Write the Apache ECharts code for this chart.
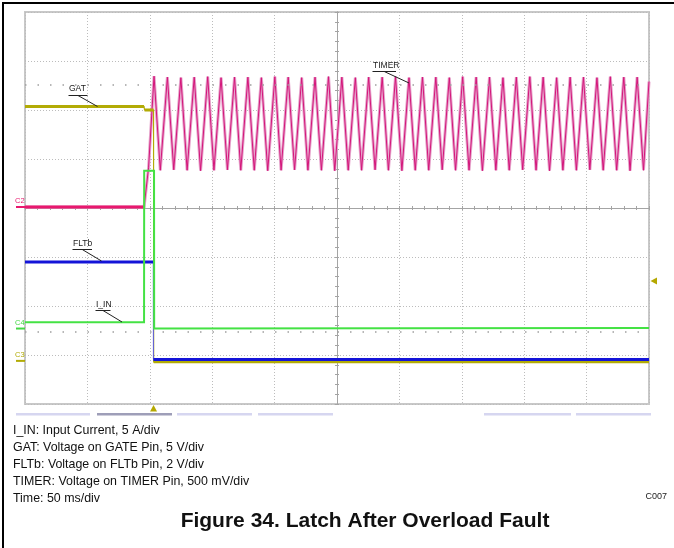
<!DOCTYPE html>
<html><head><meta charset="utf-8">
<script src="https://cdn.jsdelivr.net/npm/echarts@6/dist/echarts.min.js"></script>
<style>html,body{margin:0;padding:0;background:#fff}#c{width:674px;height:548px}</style>
</head><body><div id="c"></div>
<script>
// Time in ms from left screen edge (50 ms/div, 10 div); amplitude in screen divisions (0 = centre line)
const gatT = [0, 95.4, 95.8, 103.0, 103.1, 500];
const gatV = [2.07, 2.07, 2.0, 2.0, -3.14, -3.14];
const fltT = [0, 102.8, 102.9, 500];
const fltV = [-1.10, -1.10, -3.09, -3.09];
const iinT = [0, 95.4, 95.5, 103.4, 103.5, 500];
const iinV = [-2.33, -2.33, 0.76, 0.76, -2.46, -2.45];
const timerLeadT = [0, 95.4, 99.0];
const timerLeadV = [0.02, 0.02, 0.82];
const timerPeakT = [103.4, 114.1, 124.9, 135.6, 146.4, 157.1, 167.9, 178.6, 189.4, 200.2, 210.9, 221.7, 232.4, 243.2, 253.9, 264.7, 275.4, 286.2, 296.9, 307.7, 318.5, 329.2, 340.0, 350.7, 361.5, 372.2, 383.0, 393.7, 404.5, 415.2, 426.0, 436.8, 447.5, 458.3, 469.0, 479.8, 490.5];
const timerPeakV = [2.69, 2.67, 2.66, 2.67, 2.68, 2.66, 2.67, 2.67, 2.66, 2.68, 2.67, 2.66, 2.67, 2.68, 2.67, 2.66, 2.67, 2.67, 2.68, 2.66, 2.67, 2.67, 2.66, 2.68, 2.67, 2.67, 2.66, 2.67, 2.68, 2.67, 2.66, 2.67, 2.67, 2.66, 2.68, 2.67, 2.67];
const timerTroughT = [108.4, 119.2, 129.9, 140.7, 151.4, 162.2, 172.9, 183.7, 194.5, 205.2, 216.0, 226.7, 237.5, 248.2, 259.0, 269.7, 280.5, 291.2, 302.0, 312.7, 323.5, 334.3, 345.0, 355.8, 366.5, 377.3, 388.0, 398.8, 409.5, 420.3, 431.0, 441.8, 452.6, 463.3, 474.1, 484.8, 495.6];
const timerTroughV = [0.77, 0.78, 0.77, 0.76, 0.77, 0.78, 0.77, 0.77, 0.76, 0.77, 0.78, 0.77, 0.77, 0.76, 0.77, 0.77, 0.78, 0.77, 0.76, 0.77, 0.77, 0.78, 0.77, 0.77, 0.76, 0.77, 0.77, 0.78, 0.77, 0.76, 0.77, 0.77, 0.78, 0.77, 0.77, 0.76, 0.77];
const timerTailT = [500];
const timerTailV = [2.58];
const cursorLevels = [2.51, -2.53];
const triggerTime = 103.0;
const triggerLevel = -1.49;
const channelNames = ['C2', 'C4', 'C3'];
const channelZero = [0.02, -2.46, -3.12];
const legendLines = ['I_IN: Input Current, 5 A/div', 'GAT: Voltage on GATE Pin, 5 V/div', 'FLTb: Voltage on FLTb Pin, 2 V/div', 'TIMER: Voltage on TIMER Pin, 500 mV/div', 'Time: 50 ms/div'];
const figTitle = 'Figure 34. Latch After Overload Fault';
const figCode = 'C007';

const FONT = 'Liberation Sans, Arial, Helvetica, sans-serif';
const COL = {timer: '#e8186e', timerCore: '#d4157a', timerHalo: '#e6a3cb', gat: '#b2ab05', flt: '#1414d8', iin: '#44e244'};
const HALF = 250;
function pts(ts, vs) { return ts.map((t, i) => [t - HALF, vs[i]]); }
function flats(ts, vs) {
  const out = [];
  for (let i = 0; i < ts.length - 1; i++) {
    if (vs[i] === vs[i + 1]) { out.push([ts[i] - HALF, vs[i]], [ts[i + 1] - HALF, vs[i + 1]], [ts[i + 1] - HALF, '-']); }
  }
  return out;
}
const timerPairs = [];
timerLeadT.forEach((t, i) => timerPairs.push([t, timerLeadV[i]]));
timerPeakT.forEach((t, i) => timerPairs.push([t, timerPeakV[i]]));
timerTroughT.forEach((t, i) => timerPairs.push([t, timerTroughV[i]]));
timerTailT.forEach((t, i) => timerPairs.push([t, timerTailV[i]]));
timerPairs.sort((a, b) => a[0] - b[0]);
const timerT = timerPairs.map(p => p[0]), timerV = timerPairs.map(p => p[1]);

function line(name, data, color, width, z) {
  return {name, type: 'line', data, showSymbol: false, symbol: 'none', silent: true, animation: false, z,
    lineStyle: {color, width, cap: 'butt', join: 'miter'}, connectNulls: false};
}
const axisCommonX = {type: 'value', min: -250, max: 250, interval: 50,
  axisLabel: {show: false}, axisLine: {show: true, onZero: true, onZeroAxisIndex: 0, lineStyle: {color: '#a4a4a4', width: 1}},
  axisTick: {show: true, length: 2, lineStyle: {color: '#a4a4a4'}},
  minorTick: {show: true, splitNumber: 5, length: 2, lineStyle: {color: '#a4a4a4'}}};
const axisCommonY = {type: 'value', min: -4, max: 4, interval: 1,
  axisLabel: {show: false}, axisLine: {show: true, onZero: true, onZeroAxisIndex: 0, lineStyle: {color: '#a4a4a4', width: 1}},
  axisTick: {show: true, length: 2, lineStyle: {color: '#a4a4a4'}},
  minorTick: {show: true, splitNumber: 5, length: 2, lineStyle: {color: '#a4a4a4'}}};

const chart = echarts.init(document.getElementById('c'), null, {renderer: 'canvas'});
chart.setOption({
  backgroundColor: '#ffffff',
  animation: false,
  grid: {left: 25, top: 12, width: 624, height: 392, show: true, borderColor: '#c8c8c8', borderWidth: 2, backgroundColor: '#ffffff', containLabel: false},
  xAxis: [
    Object.assign({}, axisCommonX, {position: 'bottom', splitLine: {show: true, lineStyle: {color: '#bcbcbc', width: 1, type: [1, 2]}}}),
    Object.assign({}, axisCommonX, {position: 'top', splitLine: {show: false}})
  ],
  yAxis: [
    Object.assign({}, axisCommonY, {position: 'left', splitLine: {show: true, lineStyle: {color: '#bcbcbc', width: 1, type: [1, 2]}}}),
    Object.assign({}, axisCommonY, {position: 'right', splitLine: {show: false}})
  ],
  series: [
    Object.assign(line('cursor', [], '#999', 1, 1), {markLine: {silent: true, symbol: 'none', animation: false,
      label: {show: false}, lineStyle: {color: '#a0a0a0', width: 1.5, type: [1.5, 11]},
      data: cursorLevels.map(v => ({yAxis: v}))}}),
    line('TIMER halo', pts(timerT, timerV), COL.timerHalo, 3, 2),
    line('TIMER', pts(timerT, timerV), COL.timerCore, 1, 3),
    line('TIMER flat', flats(timerT, timerV), COL.timer, 3, 4),
    line('GAT', pts(gatT, gatV), COL.gat, 1.2, 5),
    line('GAT flat', flats(gatT, gatV), COL.gat, 3, 6),
    line('FLTb', pts(fltT, fltV), '#5a5ae8', 1, 7),
    line('FLTb flat', flats(fltT, fltV), COL.flt, 3, 8),
    line('I_IN', pts(iinT, iinV), COL.iin, 2, 9)
  ]
});

const g = [];
// outer frame
g.push({type: 'line', shape: {x1: 3, y1: 2, x2: 3, y2: 548}, style: {stroke: '#000', lineWidth: 2}});
g.push({type: 'line', shape: {x1: 2, y1: 3, x2: 674, y2: 3}, style: {stroke: '#000', lineWidth: 2}});
// trace name labels with leader lines
function tag(text, tx, ty, ux1, ux2, uy, lx2, ly2) {
  g.push({type: 'text', x: tx, y: ty, style: {text, font: '8.5px ' + FONT, fill: '#1a1a1a', verticalAlign: 'middle'}, z: 20});
  g.push({type: 'line', shape: {x1: ux1, y1: uy, x2: ux2, y2: uy}, style: {stroke: '#222', lineWidth: 1}, z: 20});
  g.push({type: 'line', shape: {x1: ux1 + (ux2 - ux1) * 0.5, y1: uy, x2: lx2, y2: ly2}, style: {stroke: '#222', lineWidth: 1}, z: 20});
}
tag('GAT', 69, 89, 68.5, 87.5, 95.5, 97.5, 106.5);
tag('FLTb', 73, 244, 72.5, 92, 249.5, 101.5, 261);
tag('I_IN', 96, 305, 95.5, 110.5, 310.5, 122, 322);
tag('TIMER', 373, 65.5, 372.5, 396, 71.5, 409, 83);
// channel zero markers
const chCol = [COL.timer, '#44d844', COL.gat];
channelNames.forEach((n, i) => {
  const py = chart.convertToPixel({xAxisIndex: 0, yAxisIndex: 0}, [-HALF, channelZero[i]])[1];
  g.push({type: 'text', x: 15, y: py - 6, style: {text: n, font: '7.5px ' + FONT, fill: chCol[i], verticalAlign: 'middle'}, z: 20});
  g.push({type: 'line', shape: {x1: 16, y1: py, x2: 25, y2: py}, style: {stroke: chCol[i], lineWidth: 2}, z: 20});
});
// trigger markers
const tp = chart.convertToPixel({xAxisIndex: 0, yAxisIndex: 0}, [triggerTime - HALF, triggerLevel]);
g.push({type: 'polygon', shape: {points: [[tp[0] - 3.5, 411.5], [tp[0] + 3.5, 411.5], [tp[0], 405]]}, style: {fill: '#b5a800'}, z: 20});
g.push({type: 'polygon', shape: {points: [[650.5, tp[1]], [657, tp[1] - 3.5], [657, tp[1] + 3.5]]}, style: {fill: '#b5a800'}, z: 20});
// soft-key bars under the screen
[[16, 90, '#d6d6f0'], [97, 172, '#9e9eb8'], [177, 252, '#d6d6f0'], [258, 333, '#d6d6f0'], [484, 571, '#d6d6f0'], [576, 651, '#d6d6f0']].forEach(b => {
  g.push({type: 'rect', shape: {x: b[0], y: 413, width: b[1] - b[0], height: 2.5}, style: {fill: b[2]}, z: 20});
});
// caption lines
legendLines.forEach((s, i) => {
  g.push({type: 'text', x: 13, y: 431 + i * 17, style: {text: s, font: '12.4px ' + FONT, fill: '#111', verticalAlign: 'middle'}, z: 20});
});
g.push({type: 'text', x: 667, y: 497, style: {text: figCode, font: '9px ' + FONT, fill: '#222', align: 'right', verticalAlign: 'middle'}, z: 20});
g.push({type: 'text', x: 365, y: 521, style: {text: figTitle, font: 'bold 21px ' + FONT, fill: '#111', align: 'center', verticalAlign: 'middle'}, z: 20});
chart.setOption({graphic: g});
</script>
</body></html>
